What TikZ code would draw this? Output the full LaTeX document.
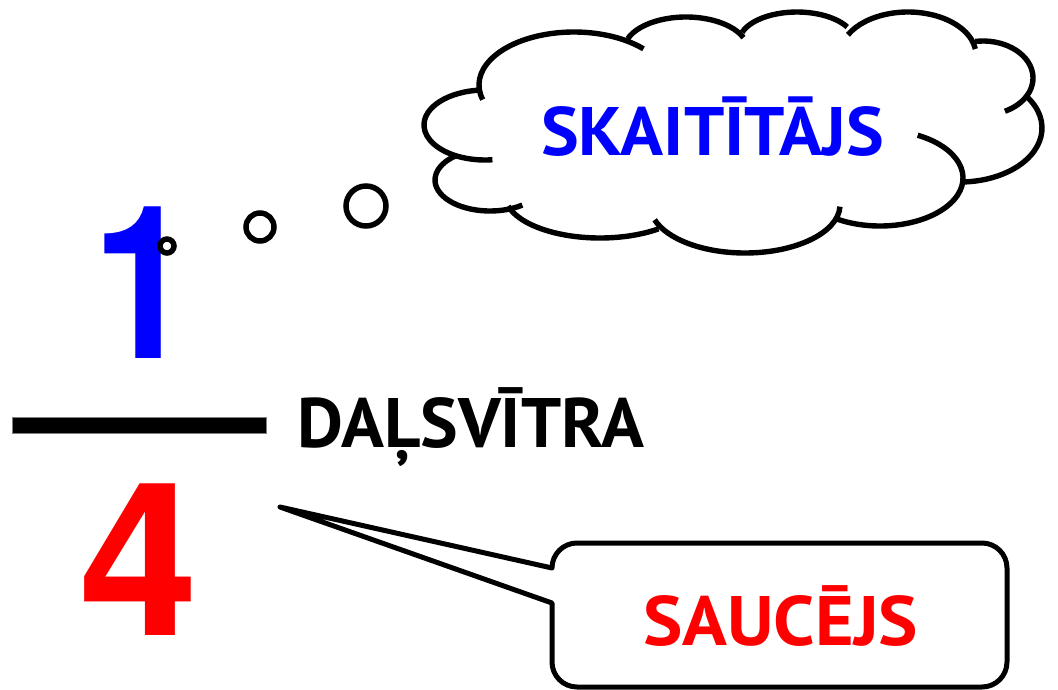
\documentclass[tikz,border=0pt]{standalone}
\usepackage{fontspec}
\usepackage{graphicx}
\setmainfont{PT Sans}
\newfontfamily\digitfont{TeX Gyre Heros}
\usetikzlibrary{calc}
\definecolor{numblue}{RGB}{0,0,255}
\definecolor{numred}{RGB}{255,0,0}
\newcommand\cloudbump[6]{\draw[cloudline] ($(#1,-#2)+(#5:#3 and #4)$) arc[start angle=#5,end angle=#6,x radius=#3,y radius=#4];}
\begin{document}
\begin{tikzpicture}[x=1pt,y=1pt,
  cloudline/.style={line width=5.4pt},
  bubble/.style={line width=5.5pt, fill=white},
  digit/.style={anchor=base, inner sep=0pt, font=\fontsize{214}{214}\digitfont\bfseries},
  label/.style={anchor=base west, inner sep=0pt}]
\useasboundingbox[fill=white] (0,0) rectangle (1058,-689);
% cloud
\cloudbump{574}{85}{95}{53}{196}{43}
\cloudbump{686}{50}{62}{33}{160}{22}
\cloudbump{797}{42}{58}{30}{161}{30}
\cloudbump{908}{55}{68}{43}{152}{8}
\cloudbump{983}{78}{50}{37}{99}{-64}
\cloudbump{960}{128}{82}{54}{36}{-88}
\cloudbump{880}{178}{83}{48}{63}{-123}
\cloudbump{745}{205}{95}{48}{-2}{-162}
\cloudbump{600}{195}{95}{43}{-52}{-165}
\cloudbump{490}{180}{55}{31}{-54}{-232}
\cloudbump{485}{125}{61}{35}{93}{277}
\node[label, text=numblue] (num) at (541,-155)
  {\resizebox{343pt}{\height}{\fontsize{68.6}{70}\selectfont\bfseries SKAITĪTĀJS}};
% digits
\node[digit, text=numblue] (one) at (143,-358) {\scalebox{0.85}[1]{1}};
\node[digit, text=numred] (four) at (139,-635) {4};
% thought bubbles
\draw[bubble] (167,-246) circle[radius=7];
\draw[bubble] (260,-227) circle[radius=14];
\draw[bubble] (366,-206) circle[radius=20];
% fraction bar
\node[fill=black, draw=gray, line width=0.8pt, minimum width=254pt, minimum height=16pt, inner sep=0pt] (bar) at (139,-425) {};
\node[label] (line) at (297,-447)
  {\resizebox{347pt}{\height}{\fontsize{70}{72}\selectfont\bfseries DAĻSVĪTRA}};
% callout
\coordinate (tip) at (280,-507);
\draw[line width=5pt, line join=round] (552,-568) arc[start angle=180,end angle=90,radius=25]
  -- (982,-543) arc[start angle=90,end angle=0,radius=25]
  -- (1007,-662) arc[start angle=0,end angle=-90,radius=25]
  -- (577,-687) arc[start angle=270,end angle=180,radius=25]
  -- (552,-603) -- (tip) -- cycle;
\node[label, text=numred] (den) at (643,-645)
  {\resizebox{275pt}{\height}{\fontsize{70}{72}\selectfont\bfseries SAUCĒJS}};
\end{tikzpicture}
\end{document}
